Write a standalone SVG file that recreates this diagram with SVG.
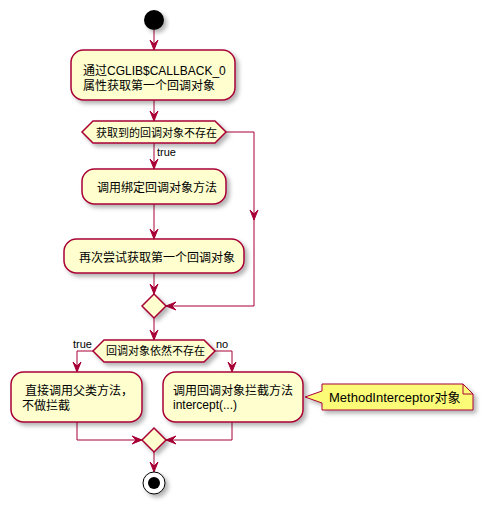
<svg xmlns="http://www.w3.org/2000/svg" width="484" height="510" viewBox="0 0 484 510">
<style>
.n{fill:#FEFECE;stroke:#A80036;stroke-width:1.5;filter:url(#sh)}
.c{fill:none;stroke:#A80036;stroke-width:1}
.t{font-family:"Liberation Sans","Noto Sans CJK SC",sans-serif;font-size:12px;fill:#000}
.s{font-family:"Liberation Sans","Noto Sans CJK SC",sans-serif;font-size:11px;fill:#000}
.nt{font-family:"Liberation Sans","Noto Sans CJK SC",sans-serif;font-size:13px;fill:#000}
.note{fill:#FBFB77;stroke:#A80036;stroke-width:1;filter:url(#sh)}
</style>
<defs>
<filter id="sh" x="-20%" y="-20%" width="150%" height="160%">
<feDropShadow dx="3" dy="3" stdDeviation="2" flood-color="#000" flood-opacity="0.3"/>
</filter>
<marker id="a" viewBox="0 0 10 10" refX="10" refY="5" markerWidth="10" markerHeight="10" markerUnits="userSpaceOnUse" orient="auto">
<path d="M0,1 L10,5 L0,9 L4,5 Z" fill="#A80036" stroke="#A80036" stroke-width="1"/>
</marker>
</defs>
<g id="connectors">
<path class="c" d="M154,30 V50" marker-end="url(#a)"/>
<path class="c" d="M154,100 V121" marker-end="url(#a)"/>
<path class="c" d="M154,143 V169" marker-end="url(#a)"/>
<path class="c" d="M154,204 V239" marker-end="url(#a)"/>
<path class="c" d="M154,273 V294" marker-end="url(#a)"/>
<path class="c" d="M226,132 H254 V220" marker-end="url(#a)"/>
<path class="c" d="M254,219 V306 H166" marker-end="url(#a)"/>
<path class="c" d="M154,318 V340" marker-end="url(#a)"/>
<path class="c" d="M93,351 H77 V372" marker-end="url(#a)"/>
<path class="c" d="M215,351 H232 V372" marker-end="url(#a)"/>
<path class="c" d="M77,422 V440 H142" marker-end="url(#a)"/>
<path class="c" d="M232,422 V440 H166" marker-end="url(#a)"/>
<path class="c" d="M154,452 V472" marker-end="url(#a)"/>
<text class="s" x="157" y="156">true</text>
<text class="s" x="73" y="348">true</text>
<text class="s" x="216" y="348">no</text>
</g>
<g id="start"><circle cx="154" cy="20" r="10" fill="#000" filter="url(#sh)"/></g>
<g id="box1">
<rect class="n" x="71" y="50" width="164" height="50" rx="12.5"/>
<text class="t" x="83" y="75">通过CGLIB$CALLBACK_0</text>
<text class="t" x="83" y="90">属性获取第一个回调对象</text>
</g>
<g id="cond1">
<polygon class="n" points="82,132 93,121 215,121 226,132 215,143 93,143"/>
<text class="s" x="96" y="137">获取到的回调对象不存在</text>
</g>
<g id="box2">
<rect class="n" x="82" y="169" width="144" height="35" rx="12.5"/>
<text class="t" x="97" y="192">调用绑定回调对象方法</text>
</g>
<g id="box3">
<rect class="n" x="64" y="239" width="180" height="34" rx="12.5"/>
<text class="t" x="79" y="262">再次尝试获取第一个回调对象</text>
</g>
<g id="merge1"><polygon class="n" points="154,294 166,306 154,318 142,306"/></g>
<g id="cond2">
<polygon class="n" points="93,351 104,340 204,340 215,351 204,362 104,362"/>
<text class="s" x="106" y="355">回调对象依然不存在</text>
</g>
<g id="box4">
<rect class="n" x="11" y="372" width="131" height="50" rx="12.5"/>
<text class="t" x="25" y="395">直接调用父类方法，</text>
<text class="t" x="22" y="410">不做拦截</text>
</g>
<g id="box5">
<rect class="n" x="163" y="372" width="140" height="50" rx="12.5"/>
<text class="t" x="173" y="395">调用回调对象拦截方法</text>
<text class="t" x="173" y="409">intercept(...)</text>
</g>
<g id="note">
<path class="note" d="M322,384 H463 L473,394 V410 H322 V403 L305,397 L322,391 Z"/>
<path d="M463,384 V394 H473" fill="none" stroke="#A80036" stroke-width="1"/>
<text class="nt" x="329" y="402">MethodInterceptor对象</text>
</g>
<g id="merge2"><polygon class="n" points="154,428 166,440 154,452 142,440"/></g>
<g id="end">
<circle cx="154" cy="483" r="11" fill="#fff" stroke="#000" stroke-width="1" filter="url(#sh)"/>
<circle cx="154" cy="483" r="6" fill="#000"/>
</g>
</svg>
